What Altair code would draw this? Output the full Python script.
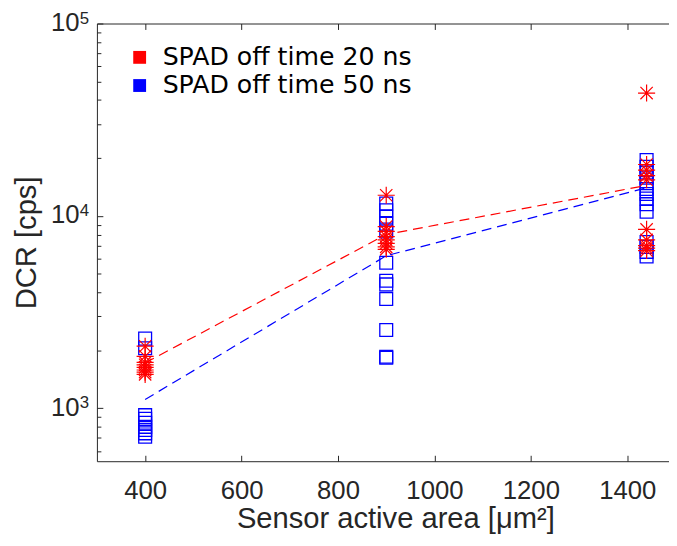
import altair as alt
import pandas as pd

# ---------------- data ----------------
legend_labels = ["SPAD off time 20 ns", "SPAD off time 50 ns"]
series_colors = ["#ff0000", "#0000ff"]

blue_area = [400] * 9 + [900] * 12 + [1440] * 14
blue_dcr = [2300, 2050, 920, 880, 840, 800, 770, 740, 710,
            11600, 10700, 9900, 9100, 8300, 5700, 4600, 4400, 3700, 2550, 1850, 1830,
            19500, 18000, 16800, 15800, 14800, 13800, 13000, 12300, 11500, 10500,
            7300, 6900, 6500, 6150]

red_area = [400] * 8 + [900] * 8 + [1440] * 10
red_dcr = [2100, 1860, 1730, 1680, 1630, 1580, 1540, 1500,
           12800, 8800, 8300, 7800, 7500, 7200, 6900, 6700,
           43500, 18500, 17300, 16200, 15400, 8500, 7500, 7000, 6800, 6600]

mean_area = [400, 900, 1440]
red_mean = [1720, 8000, 14400]
blue_mean = [1110, 6200, 14000]

x_ticks = [400, 600, 800, 1000, 1200, 1400]
y_major = [1000, 10000, 100000]
y_minor = [600, 700, 800, 900,
           2000, 3000, 4000, 5000, 6000, 7000, 8000, 9000,
           20000, 30000, 40000, 50000, 60000, 70000, 80000, 90000]

blue_df = pd.DataFrame({"area": blue_area, "dcr": blue_dcr})
red_df = pd.DataFrame({"area": red_area, "dcr": red_dcr})
red_mean_df = pd.DataFrame({"area": mean_area, "dcr": red_mean})
blue_mean_df = pd.DataFrame({"area": mean_area, "dcr": blue_mean})
legend_df = pd.DataFrame({"series": legend_labels})

AX = "#262626"
xs = alt.Scale(domain=[300, 1500], range=[0, 585.6], nice=False, zero=False)
ys = alt.Scale(type="log", domain=[530, 100000], nice=False)

STAR = "M0,-1L0,1M-1,0L1,0M-0.72,-0.72L0.72,0.72M-0.72,0.72L0.72,-0.72"

squares = alt.Chart(blue_df).mark_point(
    shape="square", filled=False, size=169, strokeWidth=1.3,
    color="#0000ff", opacity=1
).encode(
    x=alt.X("area:Q", scale=xs, axis=alt.Axis(
        orient="bottom", values=x_ticks, format="d", ticks=False, tickSize=0,
        domain=True, labelPadding=38, labelBaseline="alphabetic",
        title="Sensor active area [μm²]", titleBaseline="alphabetic",
        titleY=67, titleX=302)),
    y=alt.Y("dcr:Q", scale=ys, axis=alt.Axis(
        orient="left", values=y_major, ticks=False, tickSize=0, domain=True,
        labelExpr="'10'",
        labelPadding=18, labelBaseline="alphabetic", labelOffset=7,
        title="DCR [cps]", titleBaseline="alphabetic", titleX=-62, titleAngle=270)),
)

stars = alt.Chart(red_df).mark_point(
    shape=STAR, filled=False, size=300, strokeWidth=1.2,
    color="#ff0000", opacity=1
).encode(
    x=alt.X("area:Q", scale=xs, axis=alt.Axis(
        orient="bottom", values=x_ticks, offset=-6, tickSize=6,
        domain=False, labels=False, title=None)),
    y=alt.Y("dcr:Q", scale=ys, axis=alt.Axis(
        orient="left", values=y_major, offset=-6, tickSize=6,
        domain=False, labels=False, title=None)),
)

red_line = alt.Chart(red_mean_df).mark_line(
    color="#ff0000", strokeDash=[10, 6], strokeWidth=1.2
).encode(
    x=alt.X("area:Q", scale=xs, axis=alt.Axis(
        orient="top", domain=True, ticks=False, labels=False, title=None)),
    y=alt.Y("dcr:Q", scale=ys, axis=alt.Axis(
        orient="left", values=y_minor, offset=-4, tickSize=4,
        domain=False, labels=False, title=None)),
)

blue_line = alt.Chart(blue_mean_df).mark_line(
    color="#0000ff", strokeDash=[10, 6], strokeWidth=1.2
).encode(
    x=alt.X("area:Q", scale=xs, axis=alt.Axis(
        orient="top", values=x_ticks, offset=-6, tickSize=6,
        domain=False, labels=False, title=None)),
    # exponent labels of the decade ticks
    y=alt.Y("dcr:Q", scale=ys, axis=alt.Axis(
        orient="left", values=y_major, ticks=False, tickSize=0, domain=False,
        labelExpr="format(log(datum.value) / LN10, 'd')",
        labelAlign="left", labelPadding=18, labelFontSize=17,
        labelBaseline="alphabetic", labelOffset=-0.5, title=None)),
)

legend_layer = alt.Chart(legend_df).mark_point(
    shape="square", filled=True, size=0, opacity=1
).encode(
    color=alt.Color("series:N",
                    scale=alt.Scale(domain=legend_labels, range=series_colors),
                    legend=alt.Legend(
                        orient="none", legendX=30.5, legendY=21.5, title=None,
                        symbolType="square", symbolSize=169, symbolStrokeWidth=0,
                        labelFont="DejaVu Sans", labelFontSize=25.5, labelColor="#000000",
                        labelLimit=0, labelOffset=10.5, rowPadding=1.5, padding=0,
                        symbolOffset=0)),
)

chart = alt.layer(squares, stars, red_line, blue_line, legend_layer).resolve_axis(
    x="independent", y="independent"
).properties(
    width=579, height=443,
    autosize=alt.AutoSizeParams(type="none"),
    padding={"left": 90, "top": 12.5, "right": 0, "bottom": 74.5},
).configure_view(
    strokeWidth=0
).configure_axis(
    grid=False,
    labelFont="Liberation Sans", labelFontSize=26, labelColor=AX,
    titleFont="Liberation Sans", titleFontSize=29.5, titleColor=AX, titleFontWeight="normal",
    domainColor=AX, tickColor=AX, domainWidth=1, tickWidth=1,
)

chart.save("out.html", embed_options={"renderer": "svg", "actions": False})
